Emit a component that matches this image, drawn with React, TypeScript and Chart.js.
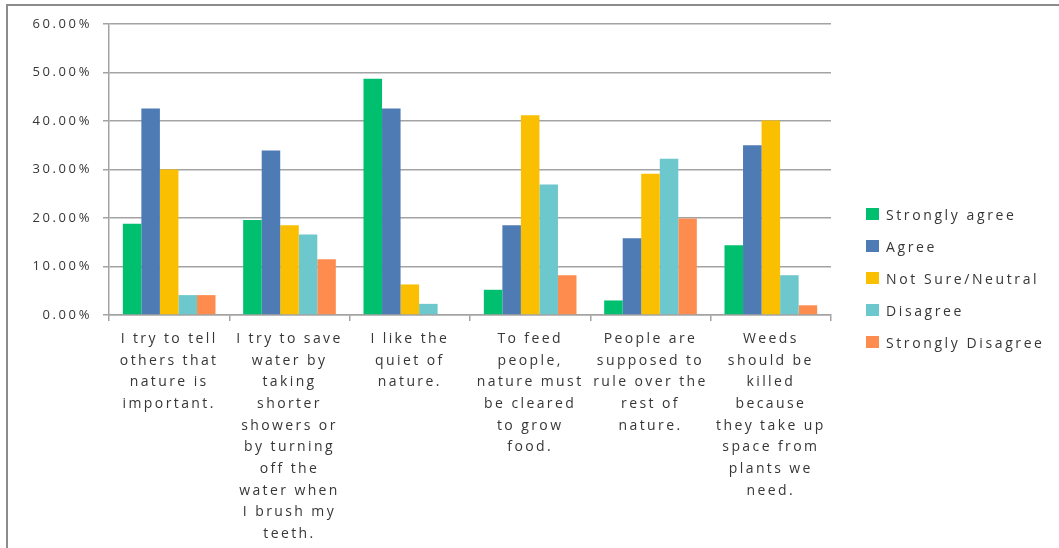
import React, { useEffect, useRef } from "react";
import { Chart, registerables } from "chart.js";

Chart.register(...registerables);

const categories: string[][] = [
  ["I try to tell", "others that", "nature is", "important."],
  ["I try to save", "water by", "taking", "shorter", "showers or", "by turning", "off the", "water when", "I brush my", "teeth."],
  ["I like the", "quiet of", "nature."],
  ["To feed", "people,", "nature must", "be cleared", "to grow", "food."],
  ["People are", "supposed to", "rule over the", "rest of", "nature."],
  ["Weeds", "should be", "killed", "because", "they take up", "space from", "plants we", "need."],
];

const seriesNames = ["Strongly agree", "Agree", "Not Sure/Neutral", "Disagree", "Strongly Disagree"];
const seriesColors = ["#00BF6F", "#4F7BB5", "#F9BF00", "#6CC8CC", "#FF8C4F"];

const stronglyAgree = [18.8, 19.6, 48.7, 5.2, 3.0, 14.4];
const agree = [42.6, 33.9, 42.6, 18.5, 15.8, 35.0];
const neutral = [30.0, 18.5, 6.3, 41.2, 29.1, 40.1];
const disagree = [4.1, 16.6, 2.3, 26.9, 32.2, 8.2];
const stronglyDisagree = [4.1, 11.5, 0, 8.2, 19.9, 2.0];

const seriesValues = [stronglyAgree, agree, neutral, disagree, stronglyDisagree];

const yTicks = [0, 10, 20, 30, 40, 50, 60];

const FONT = "'Open Sans', 'DejaVu Sans', sans-serif";
const TEXT = "#363636";
const GRID = "#a3a3a3";

const LABEL_SPACING: Record<string, string> = { x: "2.4px", y: "2.6px" };

const spacingPlugin = {
  id: "letterSpacing",
  beforeDraw(chart: any) {
    Object.keys(LABEL_SPACING).forEach((id) => {
      const scale = chart.scales[id];
      if (!scale || scale._spacingPatched) return;
      const orig = scale.drawLabels.bind(scale);
      scale.drawLabels = (area: any) => {
        const ctx = chart.ctx as any;
        const prev = ctx.letterSpacing;
        ctx.letterSpacing = LABEL_SPACING[id];
        orig(area);
        ctx.letterSpacing = prev || "0px";
      };
      scale._spacingPatched = true;
    });
  },
};

export default function App() {
  const canvasRef = useRef<HTMLCanvasElement | null>(null);

  useEffect(() => {
    if (!canvasRef.current) return;
    const chart = new Chart(canvasRef.current, {
      type: "bar",
      data: {
        labels: categories as any,
        datasets: seriesNames.map((name, i) => ({
          label: name,
          data: seriesValues[i],
          backgroundColor: seriesColors[i],
          borderWidth: 0,
          categoryPercentage: 0.77,
          barPercentage: 1,
        })),
      },
      options: {
        animation: false,
        responsive: false,
        maintainAspectRatio: false,
        layout: { padding: { left: 0, top: 24, right: 228, bottom: 0 } },
        plugins: {
          legend: { display: false },
          tooltip: { enabled: false },
        },
        scales: {
          x: {
            grid: {
              offset: true,
              drawOnChartArea: false,
              drawTicks: true,
              tickLength: 6,
              color: GRID,
              lineWidth: 1.5,
            },
            border: { color: GRID, width: 1.5 },
            ticks: {
              autoSkip: false,
              maxRotation: 0,
              minRotation: 0,
              padding: 7,
              color: TEXT,
              font: { family: FONT, size: 14, lineHeight: 1.55 },
            },
            afterFit(scale: any) {
              scale.height = 548 - 315;
            },
          },
          y: {
            min: 0,
            max: 60,
            afterBuildTicks(scale: any) {
              scale.ticks = yTicks.map((v) => ({ value: v }));
            },
            grid: {
              color: GRID,
              lineWidth: 1.5,
              tickLength: 6,
              drawTicks: true,
            },
            border: { color: GRID, width: 1.5 },
            ticks: {
              padding: 11,
              color: TEXT,
              font: { family: FONT, size: 13 },
              callback: (v: any) => Number(v).toFixed(2) + "%",
            },
            afterFit(scale: any) {
              scale.width = 109;
            },
          },
        },
      },
      plugins: [spacingPlugin],
    });
    return () => chart.destroy();
  }, []);

  return (
    <div style={{ position: "fixed", left: 0, top: 0, width: 1059, height: 548, background: "#fff", overflow: "hidden" }}>
      <div
        style={{
          position: "absolute",
          left: 6,
          top: 4,
          right: 0,
          bottom: 0,
          borderLeft: "2px solid #8c8c8c",
          borderTop: "2px solid #8c8c8c",
        }}
      />
      <canvas ref={canvasRef} width={1059} height={548} style={{ position: "absolute", left: 0, top: 0, width: 1059, height: 548 }} />
      <div style={{ position: "absolute", left: 866, top: 198 }}>
        {seriesNames.map((name, i) => (
          <div key={name} style={{ display: "flex", alignItems: "center", height: 32 }}>
            <span style={{ display: "inline-block", width: 13, height: 12, background: seriesColors[i], marginRight: 7 }} />
            <span style={{ fontFamily: FONT, fontSize: 14, letterSpacing: "2.6px", color: TEXT, whiteSpace: "nowrap" }}>{name}</span>
          </div>
        ))}
      </div>
    </div>
  );
}
